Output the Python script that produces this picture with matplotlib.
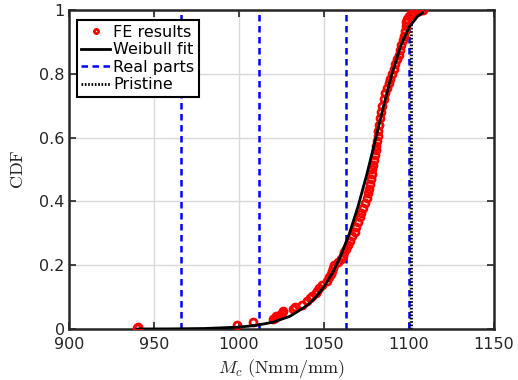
import matplotlib
matplotlib.use('Agg')
import matplotlib.pyplot as plt

plt.rcParams['mathtext.fontset'] = 'cm'
plt.rcParams['font.family'] = 'DejaVu Sans'

fe_x = [940, 940.5, 999, 1008, 1020, 1021, 1022, 1024, 1025, 1026,
        1032, 1033, 1037, 1040, 1042, 1043, 1045, 1046, 1047, 1049,
        1052, 1053, 1054, 1054.5, 1055, 1056, 1058, 1060, 1061, 1062,
        1063, 1064, 1065, 1066.5, 1068, 1069, 1070, 1071, 1072, 1073,
        1074, 1075, 1076, 1076.5, 1077, 1077.5, 1078, 1078.5, 1079, 1079.5,
        1080, 1080.5, 1080.8, 1081.2, 1081.5, 1082, 1082.5, 1083, 1083.5, 1084,
        1085, 1086, 1087, 1088, 1089, 1090, 1091, 1092, 1093, 1094,
        1094.8, 1095.5, 1096.2, 1097, 1097.5, 1098, 1098.5, 1099, 1100, 1101,
        1103, 1106, 1108]
fe_cdf = [0.003, 0.007, 0.012, 0.022, 0.030, 0.035, 0.040, 0.045, 0.050, 0.055,
          0.062, 0.068, 0.075, 0.088, 0.098, 0.105, 0.112, 0.120, 0.127, 0.138,
          0.150, 0.162, 0.172, 0.182, 0.192, 0.200, 0.210, 0.220, 0.230, 0.240,
          0.250, 0.262, 0.275, 0.290, 0.305, 0.320, 0.335, 0.350, 0.365, 0.380,
          0.395, 0.410, 0.425, 0.440, 0.455, 0.470, 0.485, 0.500, 0.515, 0.530,
          0.545, 0.560, 0.575, 0.590, 0.605, 0.620, 0.640, 0.660, 0.680, 0.700,
          0.720, 0.740, 0.755, 0.770, 0.785, 0.800, 0.815, 0.830, 0.845, 0.860,
          0.875, 0.890, 0.905, 0.920, 0.935, 0.950, 0.962, 0.972, 0.980, 0.987,
          0.993, 0.997, 1.000]

# Weibull fit curve
fit_x = [940, 960, 980, 1000, 1010, 1020, 1030, 1040, 1045, 1050, 1055,
         1060, 1065, 1070, 1075, 1080, 1085, 1090, 1095, 1100, 1105, 1108]
fit_cdf = [0.0001, 0.0004, 0.0016, 0.0059, 0.0113, 0.0214, 0.0399, 0.0735,
           0.0989, 0.1325, 0.1758, 0.2314, 0.3004, 0.3839, 0.481, 0.588,
           0.698, 0.801, 0.886, 0.946, 0.980, 0.991]

real_parts = [966, 1012, 1063, 1100]
pristine = 1101

fig = plt.figure(figsize=(5.18, 3.80), dpi=100)
ax = fig.add_axes([0.1332, 0.1342, 0.8205, 0.8395])

ax.plot(fe_x, fe_cdf, 'o', color='red', markerfacecolor='none',
        markersize=5, markeredgewidth=2.0, label='FE results', zorder=3)
ax.plot(fit_x, fit_cdf, '-', color='black', linewidth=2, label='Weibull fit', zorder=4)
for i, xv in enumerate(real_parts):
    ax.plot([xv, xv], [0, 1], '--', color='blue', linewidth=1.8, dashes=(2.6, 1.8),
            label='Real parts' if i == 0 else None, zorder=2)
ax.plot([pristine, pristine], [0, 1], ':', color='black', linewidth=2,
        dashes=(0.6, 0.6), label='Pristine', zorder=2)

ax.set_xlim(900, 1150)
ax.set_ylim(0, 1)
ax.set_xticks([900, 950, 1000, 1050, 1100, 1150])
ax.set_yticks([0, 0.2, 0.4, 0.6, 0.8, 1])
ax.set_yticklabels(['0', '0.2', '0.4', '0.6', '0.8', '1'])
ax.grid(True, color='0.85', linewidth=1)
ax.set_axisbelow(True)
ax.tick_params(direction='in', top=True, right=True, length=5, width=1.2,
               labelsize=11.5, colors='0.15')
ax.tick_params(axis='x', pad=6)
ax.tick_params(axis='y', pad=3)
for s in ax.spines.values():
    s.set_linewidth(1.8)
    s.set_color('0.15')

ax.set_xlabel(r'$M_c\ \mathrm{(Nmm/mm)}$', fontsize=13, color='0.15', labelpad=3)
ax.set_ylabel(r'$\mathrm{CDF}$', fontsize=13, color='0.15', labelpad=9)

leg = ax.legend(loc='upper left', bbox_to_anchor=(0.018, 0.968), fontsize=11.5,
                fancybox=False, framealpha=1, edgecolor='black',
                handlelength=1.8, handletextpad=0.2, borderpad=0.3,
                labelspacing=0.15, borderaxespad=0, markerscale=0.6)
leg.get_frame().set_linewidth(1.5)

fig.savefig('out.png', dpi=100)
